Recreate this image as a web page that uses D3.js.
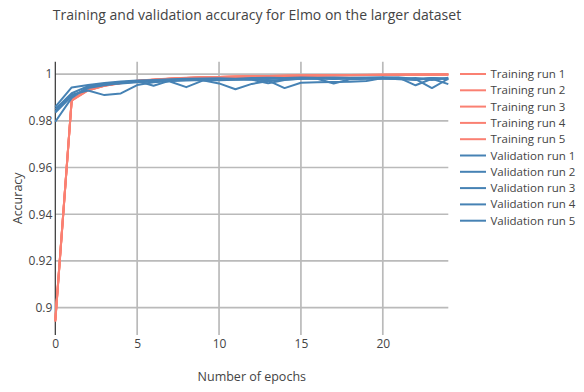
<!DOCTYPE html>
<html>
<head>
<meta charset="utf-8">
<script src="https://cdn.jsdelivr.net/npm/d3@7"></script>
<style>
  html, body { margin: 0; padding: 0; background: #fff; }
  svg { display: block; font-family: "Open Sans", verdana, arial, sans-serif; }
</style>
</head>
<body>
<svg id="chart" width="584" height="392"></svg>
<script>
// Epoch index for every series
const epochs = d3.range(0, 25);

// Training accuracy per run
const train1 = [0.8945, 0.9888, 0.9932, 0.9951, 0.9962, 0.9970, 0.9976, 0.9980, 0.9983, 0.9986, 0.9988, 0.9990, 0.9991, 0.9992, 0.9993, 0.9994, 0.9995, 0.9995, 0.9996, 0.9996, 0.9997, 0.9997, 0.9997, 0.9998, 0.9998];
const train2 = [0.8940, 0.9886, 0.9930, 0.9950, 0.9961, 0.9969, 0.9975, 0.9979, 0.9982, 0.9985, 0.9987, 0.9989, 0.9990, 0.9991, 0.9992, 0.9993, 0.9994, 0.9995, 0.9995, 0.9996, 0.9996, 0.9997, 0.9997, 0.9997, 0.9998];
const train3 = [0.8948, 0.9890, 0.9934, 0.9952, 0.9963, 0.9971, 0.9977, 0.9981, 0.9984, 0.9986, 0.9988, 0.9990, 0.9991, 0.9992, 0.9993, 0.9994, 0.9995, 0.9996, 0.9996, 0.9997, 0.9997, 0.9997, 0.9998, 0.9998, 0.9998];
const train4 = [0.8942, 0.9887, 0.9931, 0.9950, 0.9962, 0.9970, 0.9976, 0.9980, 0.9983, 0.9985, 0.9987, 0.9989, 0.9990, 0.9991, 0.9992, 0.9993, 0.9994, 0.9995, 0.9995, 0.9996, 0.9996, 0.9997, 0.9997, 0.9997, 0.9998];
const train5 = [0.8946, 0.9889, 0.9933, 0.9951, 0.9963, 0.9971, 0.9976, 0.9980, 0.9983, 0.9986, 0.9988, 0.9989, 0.9991, 0.9992, 0.9993, 0.9994, 0.9994, 0.9995, 0.9996, 0.9996, 0.9997, 0.9997, 0.9997, 0.9998, 0.9998];

// Validation accuracy per run
const val1 = [0.9860, 0.9943, 0.9953, 0.9962, 0.9968, 0.9972, 0.9975, 0.9978, 0.9980, 0.9981, 0.9982, 0.9980, 0.9983, 0.9984, 0.9983, 0.9985, 0.9984, 0.9985, 0.9984, 0.9985, 0.9986, 0.9984, 0.9952, 0.9980, 0.9957];
const val2 = [0.9850, 0.9918, 0.9948, 0.9958, 0.9965, 0.9970, 0.9950, 0.9972, 0.9975, 0.9978, 0.9979, 0.9977, 0.9976, 0.9961, 0.9975, 0.9980, 0.9982, 0.9980, 0.9981, 0.9983, 0.9982, 0.9978, 0.9975, 0.9983, 0.9978];
const val3 = [0.9840, 0.9912, 0.9930, 0.9910, 0.9917, 0.9953, 0.9965, 0.9970, 0.9972, 0.9975, 0.9974, 0.9976, 0.9978, 0.9972, 0.9940, 0.9963, 0.9965, 0.9966, 0.9967, 0.9970, 0.9983, 0.9985, 0.9980, 0.9983, 0.9981];
const val4 = [0.9835, 0.9905, 0.9940, 0.9952, 0.9962, 0.9967, 0.9970, 0.9968, 0.9944, 0.9972, 0.9976, 0.9978, 0.9980, 0.9979, 0.9981, 0.9982, 0.9980, 0.9960, 0.9978, 0.9980, 0.9982, 0.9979, 0.9983, 0.9975, 0.9984];
const val5 = [0.9796, 0.9898, 0.9945, 0.9955, 0.9960, 0.9965, 0.9968, 0.9973, 0.9976, 0.9974, 0.9960, 0.9935, 0.9958, 0.9970, 0.9977, 0.9980, 0.9981, 0.9979, 0.9981, 0.9982, 0.9980, 0.9981, 0.9978, 0.9940, 0.9980];

const xTicks = [0, 5, 10, 15, 20];
const yTicks = [0.9, 0.92, 0.94, 0.96, 0.98, 1];

const trainColor = "#fa8072";
const valColor = "#4682b4";

const series = [
  { name: "Training run 1", values: train1, color: trainColor },
  { name: "Training run 2", values: train2, color: trainColor },
  { name: "Training run 3", values: train3, color: trainColor },
  { name: "Training run 4", values: train4, color: trainColor },
  { name: "Training run 5", values: train5, color: trainColor },
  { name: "Validation run 1", values: val1, color: valColor },
  { name: "Validation run 2", values: val2, color: valColor },
  { name: "Validation run 3", values: val3, color: valColor },
  { name: "Validation run 4", values: val4, color: valColor },
  { name: "Validation run 5", values: val5, color: valColor }
];

const svg = d3.select("#chart");
const plot = { left: 55.3, right: 448.3, top: 61.7, bottom: 335 };

const x = d3.scaleLinear().domain([0, 24]).range([plot.left, plot.right]);
const y = d3.scaleLinear().domain([0.8883, 1.0053]).range([plot.bottom, plot.top]);

const textColor = "#444";
const gridColor = "#bababa";

// Horizontal grid
svg.append("g")
  .selectAll("line")
  .data(yTicks)
  .join("line")
  .attr("x1", plot.left).attr("x2", plot.right)
  .attr("y1", d => y(d)).attr("y2", d => y(d))
  .attr("stroke", gridColor).attr("stroke-width", 1.7);

// Vertical grid (the zero position is covered by the y axis line)
svg.append("g")
  .selectAll("line")
  .data(xTicks.filter(d => d !== 0))
  .join("line")
  .attr("x1", d => x(d)).attr("x2", d => x(d))
  .attr("y1", plot.top).attr("y2", plot.bottom)
  .attr("stroke", gridColor).attr("stroke-width", 1.7);

// Y axis
const yAxis = svg.append("g")
  .attr("transform", `translate(${plot.left},0)`)
  .call(d3.axisLeft(y).tickValues(yTicks).tickSize(0).tickPadding(3).tickFormat(d => d3.format("")(+d.toFixed(2))));
yAxis.select(".domain").remove();
yAxis.selectAll("text").attr("fill", textColor).style("font-size", "12px").style("font-family", "'Open Sans', verdana, arial, sans-serif");

svg.append("line")
  .attr("x1", plot.left).attr("x2", plot.left)
  .attr("y1", plot.top).attr("y2", plot.bottom)
  .attr("stroke", "#333").attr("stroke-width", 1.2);

// X axis labels
const xAxis = svg.append("g")
  .attr("transform", `translate(0,${plot.bottom})`)
  .call(d3.axisBottom(x).tickValues(xTicks).tickSize(0).tickPadding(4));
xAxis.select(".domain").remove();
xAxis.selectAll("text").attr("fill", textColor).style("font-size", "12px").style("font-family", "'Open Sans', verdana, arial, sans-serif");

// Lines
const line = d3.line()
  .x((d, i) => x(epochs[i]))
  .y(d => y(d));

svg.append("g")
  .selectAll("path")
  .data(series)
  .join("path")
  .attr("d", d => line(d.values))
  .attr("fill", "none")
  .attr("stroke", d => d.color)
  .attr("stroke-width", 2)
  .attr("stroke-linejoin", "round");

// Title
svg.append("text")
  .attr("x", 257).attr("y", 20)
  .attr("text-anchor", "middle")
  .attr("fill", textColor)
  .style("font-size", "14px")
  .text("Training and validation accuracy for Elmo on the larger dataset");

// Axis titles
svg.append("text")
  .attr("x", (plot.left + plot.right) / 2).attr("y", 381)
  .attr("text-anchor", "middle")
  .attr("fill", textColor)
  .style("font-size", "12.5px")
  .text("Number of epochs");

svg.append("text")
  .attr("transform", `translate(22,${(plot.top + plot.bottom) / 2}) rotate(-90)`)
  .attr("text-anchor", "middle")
  .attr("fill", textColor)
  .style("font-size", "12.5px")
  .text("Accuracy");

// Legend
const legend = svg.append("g").attr("transform", "translate(460,74)");
const rows = legend.selectAll("g")
  .data(series)
  .join("g")
  .attr("transform", (d, i) => `translate(0,${i * 16.3})`);
rows.append("line")
  .attr("x1", 0).attr("x2", 26)
  .attr("stroke", d => d.color).attr("stroke-width", 2);
rows.append("text")
  .attr("x", 30.5).attr("dy", "0.35em")
  .attr("fill", textColor)
  .style("font-size", "11.5px")
  .text(d => d.name);
</script>
</body>
</html>
